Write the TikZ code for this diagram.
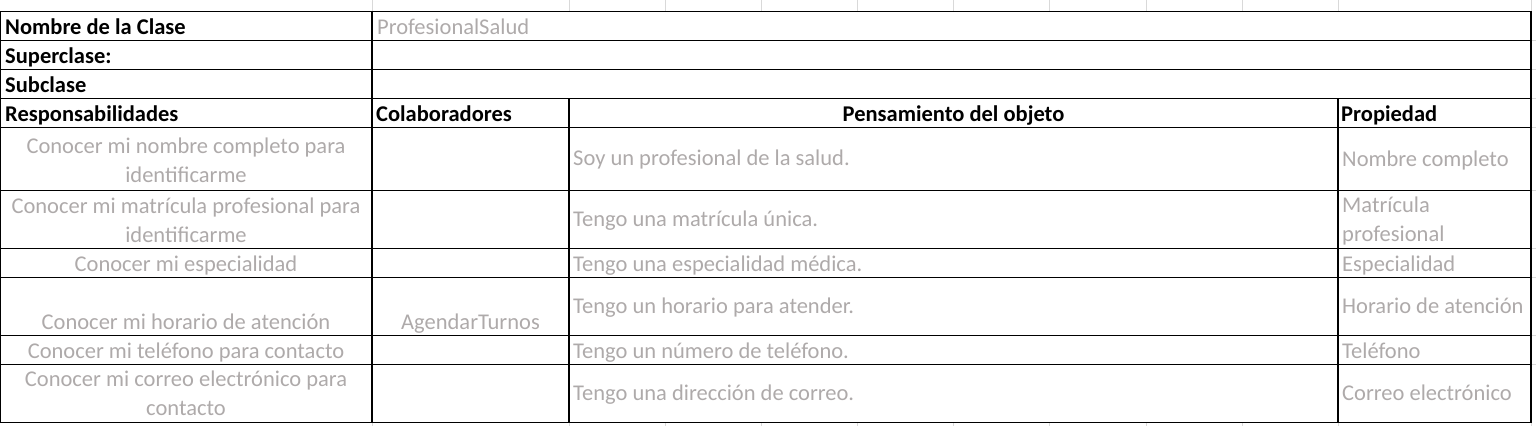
\documentclass[tikz,border=0pt]{standalone}
\usepackage{fontspec}
\setmainfont{Carlito}
\usepackage{xcolor}
\usetikzlibrary{positioning}

\definecolor{celltext}{HTML}{AEAAAA}
\definecolor{sheetgray}{HTML}{D9D9D9}
\newcommand{\cellfont}{\fontsize{22.5}{29}\selectfont}

\begin{document}
\begin{tikzpicture}[
      x=1pt, y=-1pt,
      head/.style  ={anchor=base west, inner sep=0pt, font=\cellfont\bfseries},
      value/.style ={anchor=base west, inner sep=0pt, font=\cellfont, text=celltext},
      resp/.style  ={anchor=base, inner sep=0pt, font=\cellfont, text=celltext, align=center},
      prop/.style  ={anchor=base west, inner sep=0pt, font=\cellfont, text=celltext, align=left},
      rule/.style  ={line width=1.3pt},
      sheet/.style ={draw=sheetgray, line width=0.8pt}
    ]

    \useasboundingbox (0,0) rectangle (1536,426);

    % Rejilla de la hoja (fondo)
    \foreach \x in {372,569,665.6,761.7,857.7,953.8,1049.8,1145.9,1242,1338,1531}
      {\draw[sheet] (\x,0) -- (\x,11.5);
       \draw[sheet] (\x,422.5) -- (\x,426);}
    \foreach \y in {40.5,69.5,98.5,127.5,190.5,248.5,277.5,335.5,364.5}
      \draw[sheet] (1531,\y) -- (1536,\y);

    % Bordes de la tabla
    \draw[rule] (0.5,11.5) rectangle (1531,422.5);
    \foreach \y in {40.5,69.5,98.5,127.5,190.5,248.5,277.5,335.5,364.5}
      \draw[rule] (0.5,\y) -- (1531,\y);
    \draw[rule] (372,11.5) -- (372,422.5);
    \draw[rule] (569,98.5) -- (569,422.5);
    \draw[rule] (1338,98.5) -- (1338,422.5);

    % Cabecera de la clase
    \node[head]  (nombre) at (5,34)   {Nombre de la Clase};
    \node[value] (clase)  at (377,34) {ProfesionalSalud};
    \node[head]  (super)  at (5,63)   {Superclase:};
    \node[head]  (sub)    at (5,92)   {Subclase};

    % Titulos de columnas
    \node[head] (resph)  at (5,121)    {Responsabilidades};
    \node[head] (colabh) at (376,121)  {Colaboradores};
    \node[head, anchor=base] (pensh) at (953.5,121) {Pensamiento del objeto};
    \node[head] (proph)  at (1341,121) {Propiedad};

    % Responsabilidades (base = ultima linea)
    \node[resp] (r1) at (186,182.5) {Conocer mi nombre completo para\\identificarme};
    \node[resp] (r2) at (186,242.5) {Conocer mi matrícula profesional para\\identificarme};
    \node[resp] (r3) at (186,271.5) {Conocer mi especialidad};
    \node[resp] (r4) at (186,329.5) {Conocer mi horario de atención};
    \node[resp] (r5) at (186,358.5) {Conocer mi teléfono para contacto};
    \node[resp] (r6) at (186,415.5) {Conocer mi correo electrónico para\\contacto};

    % Colaboradores
    \node[resp] (c4) at (470.5,329.5) {AgendarTurnos};

    % Pensamiento del objeto
    \node[value] (p1) at (573,165.5) {Soy un profesional de la salud.};
    \node[value] (p2) at (573,226.5) {Tengo una matrícula única.};
    \node[value] (p3) at (573,271.5) {Tengo una especialidad médica.};
    \node[value] (p4) at (573,313.5) {Tengo un horario para atender.};
    \node[value] (p5) at (573,358.5) {Tengo un número de teléfono.};
    \node[value] (p6) at (573,400.5) {Tengo una dirección de correo.};

    % Propiedades
    \node[prop] (a1) at (1342,166.5) {Nombre completo};
    \node[prop] (a2) at (1342,241.5) {Matrícula\\profesional};
    \node[prop] (a3) at (1342,271.5) {Especialidad};
    \node[prop] (a4) at (1342,313.5) {Horario de atención};
    \node[prop] (a5) at (1342,358.5) {Teléfono};
    \node[prop] (a6) at (1342,400.5) {Correo electrónico};

  \end{tikzpicture}
\end{document}
